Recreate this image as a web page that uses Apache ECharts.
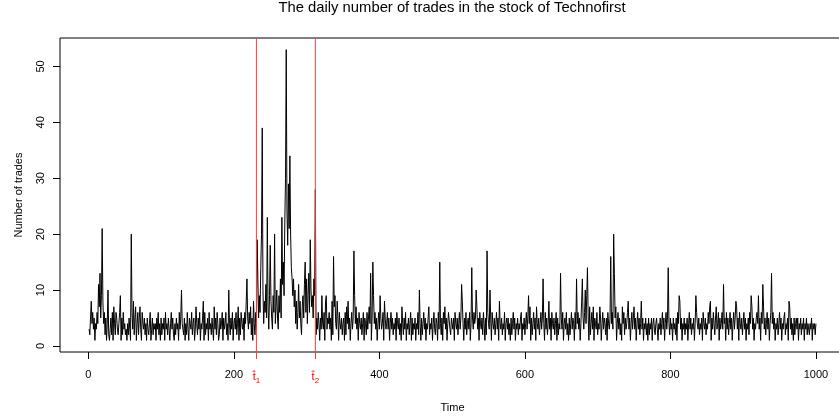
<!DOCTYPE html>
<html>
<head>
<meta charset="utf-8">
<script src="https://cdn.jsdelivr.net/npm/echarts@6/dist/echarts.min.js"></script>
<style>
  html, body { margin: 0; padding: 0; background: #fff; }
  #chart { width: 839px; height: 417px; }
</style>
</head>
<body>
<div id="chart"></div>
<script>
// daily trade counts (days 1..230, 231..312, 313..1000)
var tradesBefore = [
  3,2,5,8,4,6,3,5,1,4, 3,6,4,11,7,13,5,9,21,8, 4,6,2,5,1,4,10,2,1,3,
  5,2,6,1,7,4,2,6,5,3, 2,4,6,9,1,5,2,6,3,4, 2,3,1,4,2,5,3,1,20,6,
  3,8,2,5,7,1,4,6,2,5, 7,3,1,6,4,3,5,2,4,1, 5,3,2,4,6,1,3,5,2,4,
  3,4,1,5,3,6,2,4,1,5, 2,4,3,5,1,6,3,4,2,5, 3,1,4,6,3,5,2,1,4,2,
  5,3,4,1,6,3,5,10,4,3, 2,5,1,4,2,6,3,1,5,4, 3,6,2,4,5,1,3,7,4,2,
  5,3,6,1,4,3,5,8,1,6, 2,4,3,5,1,6,3,4,2,5, 3,1,7,3,5,2,6,4,1,2,
  5,3,4,6,1,5,3,4,6,2, 4,1,10,4,2,5,3,6,1,4, 5,3,6,2,4,7,1,5,2,6,
  4,3,5,1,6,4,8,12,5,3, 6,4,7,2,5,1,8,4,2,6
];
var tradesBetween = [
  3,19,12,5,9,6,14,20,39,10, 4,8,6,11,5,23,7,3,9,18,
  8,5,3,9,6,20,4,7,10,5, 3,9,6,12,5,23,11,15,9,22,
  30,53,24,18,29,21,34,20,14,12, 9,12,7,10,4,8,3,6,11,5,
  8,4,2,7,9,5,11,15,6,12, 4,9,13,6,19,10,7,9,5,12,
  9,28
];
var tradesAfter = [
  2,5,3,6,4,1,5,3,
  9,4,3,6,1,8,9,3,5,4, 6,3,5,1,8,2,16,7,9,4, 3,8,5,1,6,4,3,5,2,4,
  5,1,6,2,7,4,8,3,5,1, 4,6,3,5,17,9,4,7,3,5, 1,6,4,3,5,2,4,6,1,5,
  4,2,6,3,5,7,4,13,1,5, 15,9,4,6,3,5,1,4,6,3, 9,5,3,4,6,1,8,5,3,4,
  6,3,5,1,4,6,3,5,2,4, 3,5,1,6,4,3,5,2,4,1, 7,4,2,5,3,6,1,4,3,5,
  2,4,6,1,5,2,4,3,5,1, 4,3,6,2,10,4,1,5,2,4, 6,3,5,1,4,3,5,7,2,4,
  3,5,1,4,6,3,2,5,4,1, 6,3,15,4,2,5,1,6,4,7, 3,5,1,4,6,6,3,2,5,4,
  3,5,1,6,4,3,5,2,4,6, 3,5,11,8,4,1,5,3,6,2, 4,5,3,6,1,4,14,5,3,6,
  4,5,10,7,3,5,1,6,4,3, 5,2,6,4,1,5,2,17,6,4, 3,10,5,1,6,4,3,5,2,4,
  6,3,5,1,8,4,3,5,2,4, 3,6,1,4,5,3,5,2,4,1, 5,2,4,6,3,5,1,4,3,5,
  2,4,3,5,6,1,4,3,5,2, 4,6,3,5,9,4,7,1,5,2, 4,6,3,5,1,7,4,3,5,2,
  4,6,3,5,12,4,1,6,3,5, 2,4,8,3,5,1,6,4,3,5, 2,4,6,1,5,2,4,3,13,5,
  3,6,1,4,5,3,6,2,4,1, 5,2,4,6,3,5,4,1,6,3, 12,4,6,3,5,1,4,8,12,5,
  3,6,10,4,9,14,5,1,7,2, 4,6,3,7,1,5,4,3,6,2, 4,3,7,5,1,4,6,3,5,4,
  2,5,1,6,4,3,5,16,4,6, 3,20,13,5,7,1,4,6,3,5, 2,4,1,7,4,6,2,5,3,4,
  6,8,3,5,1,4,6,3,5,7, 3,5,1,4,6,3,5,2,4,8, 3,5,1,4,3,5,2,4,1,5,
  2,4,3,5,1,4,5,3,2,4, 5,3,1,4,3,5,2,4,6,3, 5,1,4,6,3,5,14,4,2,5,
  3,4,1,5,3,4,2,5,1,6, 4,9,8,3,5,1,4,3,5,2, 4,3,5,1,4,6,3,5,2,4,
  3,5,1,4,9,6,4,3,5,2, 4,3,5,1,6,4,3,5,2,4, 3,6,4,7,8,1,5,3,6,4,
  2,5,7,3,4,6,1,5,3,4, 6,3,11,4,5,1,6,3,5,2, 4,6,3,5,1,4,6,3,5,8,
  7,3,5,1,6,4,3,5,2,4, 6,3,5,1,4,3,5,2,6,4, 9,7,3,5,1,4,3,5,6,4,
  9,3,5,1,6,4,11,7,3,5, 2,4,6,3,5,1,4,6,13,4, 6,3,5,1,4,3,5,2,4,6,
  3,5,1,4,3,5,6,2,4,3, 5,1,8,7,3,5,2,4,1,5, 2,4,5,3,5,1,4,3,5,2,
  4,3,5,1,4,3,5,2,4,3, 2,4,3,5,1,4,3,4,2,4
];
var changePoints = [231, 312];
var changeLabels = ['1', '2'];
var xTicks = [0, 200, 400, 600, 800, 1000];
var yTicks = [0, 10, 20, 30, 40, 50];

var trades = tradesBefore.concat(tradesBetween, tradesAfter);
var points = trades.map(function (v, i) { return [i + 1, v]; });

// R-style 4% padding around the data range
var n = trades.length;
var yLo = Math.min.apply(null, trades), yHi = Math.max.apply(null, trades);
var xMin = 1 - 0.04 * (n - 1), xMax = n + 0.04 * (n - 1);
var yMin = yLo - 0.04 * (yHi - yLo), yMax = yHi + 0.04 * (yHi - yLo);

var font = 'Liberation Sans';
var red = '#ff3c3c';
var myChart = echarts.init(document.getElementById('chart'));

// vertical change-point lines spanning the whole plot height
var cpSeries = changePoints.map(function (cp) {
  return {
    type: 'line',
    xAxisIndex: 0,
    data: [[cp, yMin], [cp, yMax]],
    showSymbol: false,
    silent: true,
    z: 3,
    lineStyle: { color: red, width: 1 }
  };
});

var option = {
  animation: false,
  backgroundColor: '#fff',
  title: {
    text: 'The daily number of trades in the stock of Technofirst',
    left: 452,
    textAlign: 'center',
    top: 0,
    padding: 0,
    textStyle: { fontSize: 14.8, fontWeight: 'normal', color: '#000', fontFamily: font }
  },
  grid: {
    left: 60, top: 38, width: 785, height: 314,
    outerBoundsMode: 'none',
    show: true, borderColor: '#000', borderWidth: 1,
    backgroundColor: 'transparent'
  },
  xAxis: [
    {
      type: 'value', min: xMin, max: xMax,
      axisLine: { show: false, onZero: false },
      splitLine: { show: false },
      axisTick: { customValues: xTicks, length: 7, lineStyle: { color: '#000' } },
      axisLabel: {
        customValues: xTicks, margin: 17, color: '#000', fontSize: 11, fontFamily: font,
        formatter: function (v) { return String(v); }
      },
      name: 'Time', nameLocation: 'middle', nameGap: 50,
      nameTextStyle: { color: '#000', fontSize: 11, fontFamily: font }
    },
    {
      type: 'value', min: xMin, max: xMax, position: 'bottom',
      axisLine: { show: false, onZero: false },
      splitLine: { show: false },
      axisTick: { customValues: changePoints, length: 7, lineStyle: { color: red } },
      axisLabel: {
        customValues: changePoints, margin: 17,
        formatter: function (v) {
          return '{t|t\u0302}{s|' + changeLabels[changePoints.indexOf(v)] + '}';
        },
        rich: {
          t: { color: '#ff0000', fontSize: 11, fontFamily: font },
          s: { color: '#ff0000', fontSize: 8, fontFamily: font, padding: [8, 0, 0, 0] }
        }
      }
    }
  ],
  yAxis: {
    type: 'value', min: yMin, max: yMax,
    axisLine: { show: false, onZero: false },
    splitLine: { show: false },
    axisTick: { customValues: yTicks, length: 7, lineStyle: { color: '#000' } },
    axisLabel: { customValues: yTicks, rotate: 90, margin: 14, color: '#000', fontSize: 11, fontFamily: font },
    name: 'Number of trades', nameLocation: 'middle', nameGap: 36,
    nameTextStyle: { color: '#000', fontSize: 11, fontFamily: font }
  },
  series: [
    {
      type: 'line',
      xAxisIndex: 0,
      data: points,
      showSymbol: false,
      lineStyle: { color: '#000', width: 1 }
    }
  ].concat(cpSeries)
};

myChart.setOption(option);
window.addEventListener("resize", function () {
  myChart.resize();
});
</script>
</body>
</html>
